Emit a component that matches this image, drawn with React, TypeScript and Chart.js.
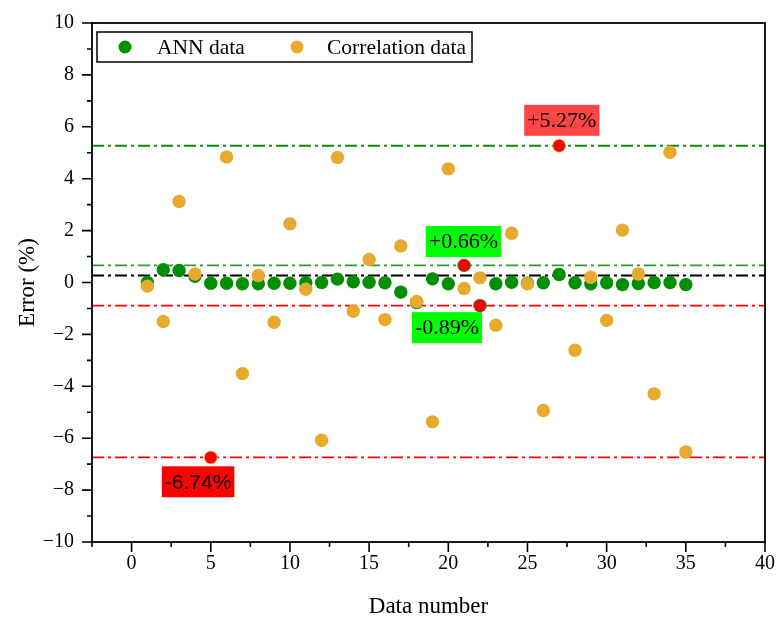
import React, { useEffect, useRef } from "react";
import { Chart, registerables } from "chart.js";

Chart.register(...registerables);

// ---- data ----
const dataNumbers = [
  1, 2, 3, 4, 5, 6, 7, 8, 9, 10, 11, 12, 13, 14, 15, 16, 17, 18, 19, 20,
  21, 22, 23, 24, 25, 26, 27, 28, 29, 30, 31, 32, 33, 34, 35,
];
const annErrors = [
  0.0, 0.49, 0.46, 0.24, -0.03, -0.03, -0.05, -0.05, -0.03, -0.03, -0.01, 0.0,
  0.13, 0.03, 0.01, -0.01, -0.37, -0.77, 0.14, -0.05, 0.66, -0.89, -0.05, 0.01,
  -0.03, -0.01, 0.31, -0.01, -0.05, -0.01, -0.08, -0.04, 0.0, 0.0, -0.08,
];
const correlationErrors = [
  -0.14, -1.5, 3.12, 0.33, -6.74, 4.84, -3.51, 0.27, -1.53, 2.26, -0.26, -6.08,
  4.82, -1.11, 0.89, -1.43, 1.41, -0.73, -5.37, 4.38, -0.23, 0.18, -1.65, 1.9,
  -0.05, -4.93, 5.27, -2.61, 0.2, -1.46, 2.02, 0.33, -4.29, 5.02, -6.53,
];
// highlighted extreme points: which series and which data number
const highlightSeries = ["corr", "ann", "ann", "corr"];
const highlightNumbers = [5, 21, 22, 27];

const refLineValues = [5.27, 0.66, 0.27, -0.89, -6.74];
const refLineColors = ["#0b8a0b", "#2b9b2b", "#000000", "#ff0000", "#ff0000"];

const labelTexts = ["+5.27%", "+0.66%", "-0.89%", "-6.74%"];
const labelX = [27.17, 20.95, 19.92, 4.2];
const labelY = [6.25, 1.58, -1.74, -7.68];
const labelColors = ["#ff4545", "#00ff00", "#00ff00", "#ff0000"];
const labelFonts = [
  "22px 'Liberation Serif'",
  "22px 'Liberation Serif'",
  "22px 'Liberation Serif'",
  "21px 'Liberation Sans'",
];

const xTickValues = [0, 5, 10, 15, 20, 25, 30, 35, 40];
const xMinorTickValues = [-2.5, 2.5, 7.5, 12.5, 17.5, 22.5, 27.5, 32.5, 37.5];
const yTickValues = [-10, -8, -6, -4, -2, 0, 2, 4, 6, 8, 10];
const yMinorTickValues = [-9, -7, -5, -3, -1, 1, 3, 5, 7, 9];

const annColor = "#008f00";
const corrColor = "#e8aa2e";
const highlightColor = "#ff0000";

const fmt = (v: number) => (v < 0 ? "\u2212" + Math.abs(v) : String(v));

const decorPlugin = {
  id: "decor",
  beforeDatasetsDraw(chart: any) {
    const { ctx, chartArea: a, scales } = chart;
    const y = scales.y;
    ctx.save();
    ctx.beginPath();
    ctx.rect(a.left, a.top, a.right - a.left, a.bottom - a.top);
    ctx.clip();
    ctx.lineWidth = 1.8;
    ctx.setLineDash([12, 4, 3, 4]);
    refLineValues.forEach((v, i) => {
      const py = y.getPixelForValue(v);
      ctx.strokeStyle = refLineColors[i];
      ctx.beginPath();
      ctx.moveTo(a.left, py);
      ctx.lineTo(a.right, py);
      ctx.stroke();
    });
    ctx.restore();
  },
  afterDatasetsDraw(chart: any) {
    const { ctx, chartArea: a, scales } = chart;
    const x = scales.x;
    const y = scales.y;
    ctx.save();
    // frame
    ctx.strokeStyle = "#000";
    ctx.lineWidth = 1.8;
    ctx.setLineDash([]);
    ctx.strokeRect(a.left, a.top, a.right - a.left, a.bottom - a.top);
    // ticks
    ctx.lineWidth = 1.6;
    ctx.beginPath();
    xTickValues.forEach((v) => {
      const px = x.getPixelForValue(v);
      ctx.moveTo(px, a.bottom);
      ctx.lineTo(px, a.bottom + 10);
    });
    xMinorTickValues.forEach((v) => {
      const px = x.getPixelForValue(v);
      ctx.moveTo(px, a.bottom);
      ctx.lineTo(px, a.bottom + 5);
    });
    yTickValues.forEach((v) => {
      const py = y.getPixelForValue(v);
      ctx.moveTo(a.left, py);
      ctx.lineTo(a.left - 10, py);
    });
    yMinorTickValues.forEach((v) => {
      const py = y.getPixelForValue(v);
      ctx.moveTo(a.left, py);
      ctx.lineTo(a.left - 5, py);
    });
    ctx.stroke();

    // legend
    const lx = a.left + 5;
    const ly = a.top + 9;
    const lw = 375;
    const lh = 30;
    ctx.lineWidth = 1.5;
    ctx.fillStyle = "#fff";
    ctx.fillRect(lx, ly, lw, lh);
    ctx.strokeRect(lx, ly, lw, lh);
    const cy = ly + lh / 2;
    ctx.font = "21.5px 'Liberation Serif'";
    ctx.textBaseline = "middle";
    ctx.textAlign = "left";
    ctx.fillStyle = annColor;
    ctx.beginPath();
    ctx.arc(lx + 28, cy, 6.5, 0, Math.PI * 2);
    ctx.fill();
    ctx.fillStyle = "#000";
    ctx.fillText("ANN data", lx + 60, cy + 1);
    ctx.fillStyle = corrColor;
    ctx.beginPath();
    ctx.arc(lx + 200, cy, 6.5, 0, Math.PI * 2);
    ctx.fill();
    ctx.fillStyle = "#000";
    ctx.fillText("Correlation data", lx + 230, cy + 1);

    // value labels
    labelTexts.forEach((t, i) => {
      ctx.font = labelFonts[i];
      const w = ctx.measureText(t).width + 6;
      const h = 31;
      const px = x.getPixelForValue(labelX[i]);
      const py = y.getPixelForValue(labelY[i]);
      ctx.fillStyle = labelColors[i];
      ctx.fillRect(px - w / 2, py - h / 2, w, h);
      ctx.fillStyle = "#000";
      ctx.textAlign = "center";
      ctx.textBaseline = "middle";
      ctx.fillText(t, px, py + 1);
    });
    ctx.restore();
  },
};

export default function App() {
  const ref = useRef<HTMLCanvasElement | null>(null);
  useEffect(() => {
    if (!ref.current) return;
    const annPts = dataNumbers.map((n, i) => ({ x: n, y: annErrors[i] }));
    const corrPts = dataNumbers.map((n, i) => ({ x: n, y: correlationErrors[i] }));
    const hiPts = highlightNumbers.map((n, i) => {
      const idx = dataNumbers.indexOf(n);
      const arr = highlightSeries[i] === "ann" ? annErrors : correlationErrors;
      return { x: n, y: arr[idx] };
    });
    const tickFont = { family: "'Liberation Serif'", size: 20 };
    const chart = new Chart(ref.current, {
      type: "scatter",
      data: {
        datasets: [
          {
            label: "Highlighted",
            data: hiPts,
            backgroundColor: highlightColor,
            borderColor: highlightColor,
            pointRadius: 6,
            pointBorderWidth: 0,
            order: 1,
          },
          {
            label: "Correlation data",
            data: corrPts,
            backgroundColor: corrColor,
            borderColor: corrColor,
            pointRadius: 6.7,
            pointBorderWidth: 0,
            order: 2,
          },
          {
            label: "ANN data",
            data: annPts,
            backgroundColor: annColor,
            borderColor: annColor,
            pointRadius: 6.7,
            pointBorderWidth: 0,
            order: 3,
          },
        ],
      },
      options: {
        responsive: false,
        animation: false,
        layout: { padding: { top: 23, right: 12, left: 0, bottom: 0 } },
        plugins: { legend: { display: false }, tooltip: { enabled: false } },
        scales: {
          x: {
            type: "linear",
            min: -2.5,
            max: 40,
            afterBuildTicks: (s: any) => {
              s.ticks = xTickValues.map((v) => ({ value: v }));
            },
            afterFit: (s: any) => {
              s.height = 80;
              s.paddingLeft = 0;
              s.paddingRight = 0;
              s.paddingTop = 0;
              s.paddingBottom = 0;
            },
            grid: { display: true, drawOnChartArea: false, drawTicks: false },
            border: { display: false },
            ticks: {
              autoSkip: false,
              maxRotation: 0,
              padding: 10,
              color: "#000",
              font: tickFont,
              callback: (v: any) => fmt(Number(v)),
            },
            title: {
              display: true,
              text: "Data number",
              color: "#000",
              font: { family: "'Liberation Serif'", size: 23 },
              padding: { top: 0, bottom: 1 },
            },
          },
          y: {
            type: "linear",
            min: -10,
            max: 10,
            afterBuildTicks: (s: any) => {
              s.ticks = yTickValues.map((v) => ({ value: v }));
            },
            afterFit: (s: any) => {
              s.width = 92;
              s.paddingLeft = 0;
              s.paddingRight = 0;
              s.paddingTop = 0;
              s.paddingBottom = 0;
            },
            grid: { display: true, drawOnChartArea: false, drawTicks: false },
            border: { display: false },
            ticks: {
              autoSkip: false,
              padding: 18,
              color: "#000",
              font: tickFont,
              callback: (v: any) => fmt(Number(v)),
            },
            title: {
              display: true,
              text: "Error (%)",
              color: "#000",
              font: { family: "'Liberation Serif'", size: 23 },
              padding: { top: 14, bottom: 0 },
            },
          },
        },
      },
      plugins: [decorPlugin],
    });
    return () => chart.destroy();
  }, []);
  return (
    <div
      style={{
        position: "fixed",
        left: 0,
        top: 0,
        width: 777,
        height: 622,
        background: "#fff",
      }}
    >
      <canvas ref={ref} width={777} height={622} style={{ display: "block" }} />
    </div>
  );
}
